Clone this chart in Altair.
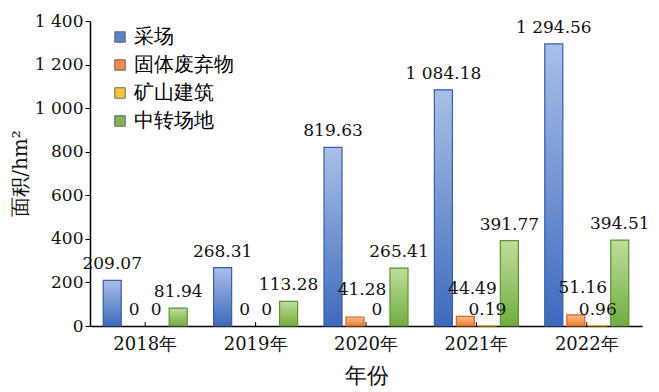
import altair as alt
import pandas as pd

years = ["2018年", "2019年", "2020年", "2021年", "2022年"]
series = ["采场", "固体废弃物", "矿山建筑", "中转场地"]
caichang = [209.07, 268.31, 819.63, 1084.18, 1294.56]
guti = [0, 0, 41.28, 44.49, 51.16]
jianzhu = [0, 0, 0, 0.19, 0.96]
zhongzhuan = [81.94, 113.28, 265.41, 391.77, 394.51]

values = [caichang, guti, jianzhu, zhongzhuan]
rows = []
for s, vals in zip(series, values):
    for y, v in zip(years, vals):
        lab = "0" if v == 0 else f"{v:,.2f}".replace(",", " ")
        rows.append({"year": y, "series": s, "value": v, "label": lab})
df = pd.DataFrame(rows)

base_colors = ["#5A82CC", "#F28A48", "#F6C23A", "#80B655"]
grad = {
    "采场": ("#A9C0E8", "#3D69BD", "#3A5FA3"),
    "固体废弃物": ("#FBBC8E", "#EE7C30", "#D06A25"),
    "矿山建筑": ("#FFE27E", "#F2B500", "#D3A000"),
    "中转场地": ("#C0DD9B", "#70AD40", "#5A9435"),
}

SERIF = "DejaVu Serif"
NUM = 17
W, H = 552, 305

x_enc = alt.X("year:N", sort=years,
              scale=alt.Scale(domain=years, paddingInner=0, paddingOuter=0),
              axis=alt.Axis(title="年份", labelAngle=0, ticks=False, labelPadding=9,
                            labelFontSize=18,
                            titleY=49, titleBaseline="middle", titleFontSize=22,
                            titleFontWeight="normal"))
xo_enc = alt.XOffset("series:N", sort=series,
                     scale=alt.Scale(domain=series, paddingInner=0.18, paddingOuter=0.6))
y_enc = alt.Y("value:Q", scale=alt.Scale(domain=[0, 1400]),
              axis=alt.Axis(title="面积/hm²", values=list(range(0, 1401, 200)),
                            labelExpr="replace(format(datum.value, ','), ',', ' ')",
                            grid=False, tickSize=5, titleX=-70, titleY=152,
                            titleBaseline="middle", titleFontSize=20,
                            titleFontWeight="normal"))

base = alt.Chart(df)

legend_bars = base.mark_bar().encode(
    x=x_enc, xOffset=xo_enc, y=y_enc,
    color=alt.Color("series:N", sort=series,
                    scale=alt.Scale(domain=series, range=base_colors),
                    legend=alt.Legend(title=None, orient="none", legendX=20, legendY=6,
                                      symbolType="square", symbolSize=110,
                                      symbolStrokeColor="#4d4d4d", symbolStrokeWidth=0.8,
                                      labelFontSize=20, labelFont=SERIF, rowPadding=8,
                                      labelOffset=4, padding=0)),
)

layers = [legend_bars]
for s in series:
    top, bottom, stroke = grad[s]
    g = alt.Gradient(gradient="linear",
                     stops=[alt.GradientStop(color=top, offset=0),
                            alt.GradientStop(color=bottom, offset=1)],
                     x1=0, x2=0, y1=0, y2=1)
    layers.append(
        base.transform_filter((alt.datum.series == s) & (alt.datum.value > 0))
        .mark_bar(color=g, stroke=stroke, strokeWidth=1.2)
        .encode(x=x_enc, xOffset=xo_enc, y=y_enc)
    )

raised = (alt.datum.series == "固体废弃物") & (alt.datum.value > 0)

labels_normal = base.transform_filter(~raised).mark_text(
    baseline="bottom", dy=-7, fontSize=NUM, font=SERIF, color="#111"
).encode(x=x_enc, xOffset=xo_enc, y=y_enc, text="label:N")

labels_raised = base.transform_filter(raised).mark_text(
    baseline="bottom", dy=-18, dx=7, fontSize=NUM, font=SERIF, color="#111"
).encode(x=x_enc, xOffset=xo_enc, y=y_enc, text="label:N")

ticks = base.transform_filter(alt.datum.series == "采场").mark_rule(
    color="black", strokeWidth=1
).encode(x=x_enc, y=alt.value(H - 4), y2=alt.value(H))

chart = alt.layer(*layers, labels_normal, labels_raised, ticks).properties(
    width=W, height=H,
    padding={"left": 82, "top": 13, "right": 9, "bottom": 62},
    autosize="none",
).configure_view(stroke=None).configure_axis(
    labelFont=SERIF, titleFont=SERIF, labelFontSize=NUM, labelColor="#111",
    titleColor="#111", domainColor="black", domainWidth=1.5, tickColor="black"
)

chart.save("out.html", embed_options={"renderer": "svg", "actions": False})
